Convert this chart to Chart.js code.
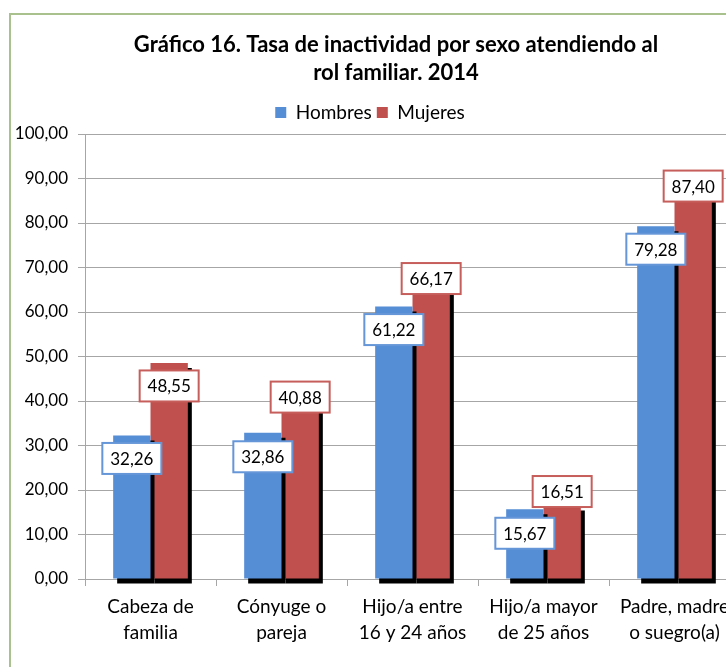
<!DOCTYPE html>
<html>
<head>
<meta charset="utf-8">
<script src="https://cdn.jsdelivr.net/npm/chart.js@4"></script>
<style>
html, body { margin:0; padding:0; background:#fff; overflow:hidden; }
#marco { position:absolute; left:9px; top:13px; width:800px; height:700px; border-left:2px solid #a9c18c; border-top:2px solid #a9c18c; }
#graf { position:absolute; left:0; top:0; }
</style>
</head>
<body>
<div id="marco"></div>
<canvas id="graf" width="782" height="667" style="width:782px;height:667px"></canvas>
<script>
const categorias = [["Cabeza de", "familia"], ["Cónyuge o", "pareja"], ["Hijo/a entre", "16 y 24 años"], ["Hijo/a mayor", "de 25 años"], ["Padre, madre", "o suegro(a)"]];
const hombres = [32.26, 32.86, 61.22, 15.67, 79.28];
const mujeres = [48.55, 40.88, 66.17, 16.51, 87.40];
const series = ["Hombres", "Mujeres"];
const titulo = ["Gráfico 16. Tasa de inactividad por sexo atendiendo al", "rol familiar. 2014"];

// desplazamiento de cada etiqueta respecto al tope de su barra (px)
const despHombres = [23, 24, 23, 24, 23];
const despMujeres = [23, 0, -6, -14, -4];

function coma(v) {
	return Number(v).toFixed(2).replace('.', ',');
}

// sombra negra de las barras + etiquetas con recuadro
const sombraEtiquetas = {
	id: 'sombraEtiquetas',
	afterLayout(chart) {
		const l = chart.legend;
		l.left -= 26; l.right -= 26;
		l.top -= 2; l.bottom -= 2;
	},
	beforeDatasetsDraw(chart) {
		const c = chart.ctx;
		c.save();
		c.shadowColor = '#000';
		c.shadowBlur = 0;
		c.shadowOffsetX = 4;
		c.shadowOffsetY = 5;
	},
	afterDatasetsDraw(chart) {
		const c = chart.ctx;
		c.restore();
		const desp = [despHombres, despMujeres];
		c.save();
		c.font = '17px Lato';
		c.textAlign = 'center';
		c.textBaseline = 'middle';
		chart.data.datasets.forEach((ds, i) => {
			chart.getDatasetMeta(i).data.forEach((bar, j) => {
				const w = 59, h = 31;
				const x = bar.x - w / 2, y = bar.y + desp[i][j] - h / 2;
				c.fillStyle = '#fff';
				c.fillRect(x, y, w, h);
				c.strokeStyle = ds.borderLabel;
				c.lineWidth = 2;
				c.strokeRect(x, y, w, h);
				c.fillStyle = '#000';
				c.fillText(coma(ds.data[j]), bar.x, bar.y + desp[i][j] + 1);
			});
		});
		c.restore();
	}
};

new Chart(document.getElementById('graf'), {
	type: 'bar',
	data: {
		labels: categorias,
		datasets: [
			{
				label: series[0],
				data: hombres,
				backgroundColor: '#558ed5',
				borderLabel: '#6596d8',
				categoryPercentage: 0.57,
				barPercentage: 1,
				clip: false
			},
			{
				label: series[1],
				data: mujeres,
				backgroundColor: '#c0504d',
				borderLabel: '#c65e5b',
				categoryPercentage: 0.57,
				barPercentage: 1,
				clip: false
			}
		]
	},
	options: {
		responsive: false,
		animation: false,
		layout: { padding: { top: 31, left: 10, right: 0, bottom: 0 } },
		plugins: {
			title: {
				display: true,
				text: titulo,
				color: '#000',
				font: { family: 'Lato', size: 22, weight: 'bold', lineHeight: 28 / 22 },
				padding: { top: 0, bottom: 13 }
			},
			legend: {
				position: 'top',
				labels: { boxWidth: 11, boxHeight: 11, padding: 5, color: '#000', font: { family: 'Lato', size: 19 } }
			},
			tooltip: { enabled: false }
		},
		scales: {
			x: {
				grid: { drawOnChartArea: false, tickLength: 7, color: '#a6a6a6' },
				border: { color: '#a6a6a6' },
				ticks: { color: '#000', font: { family: 'Lato', size: 19, lineHeight: 26 / 19 }, padding: 8, maxRotation: 0, autoSkip: false },
				afterFit(s) { s.height = 88; }
			},
			y: {
				min: 0,
				max: 100,
				ticks: { stepSize: 10, color: '#000', font: { family: 'Lato', size: 17 }, padding: 10, callback: v => coma(v) },
				grid: { color: '#a6a6a6', tickLength: 7 },
				border: { color: '#a6a6a6' },
				afterFit(s) { s.width = 75; }
			},
			derecha: {
				type: 'linear',
				position: 'right',
				grid: { display: false },
				ticks: { display: false },
				border: { display: false },
				afterFit(s) { s.width = 42; }
			}
		}
	},
	plugins: [sombraEtiquetas]
});
</script>
</body>
</html>
